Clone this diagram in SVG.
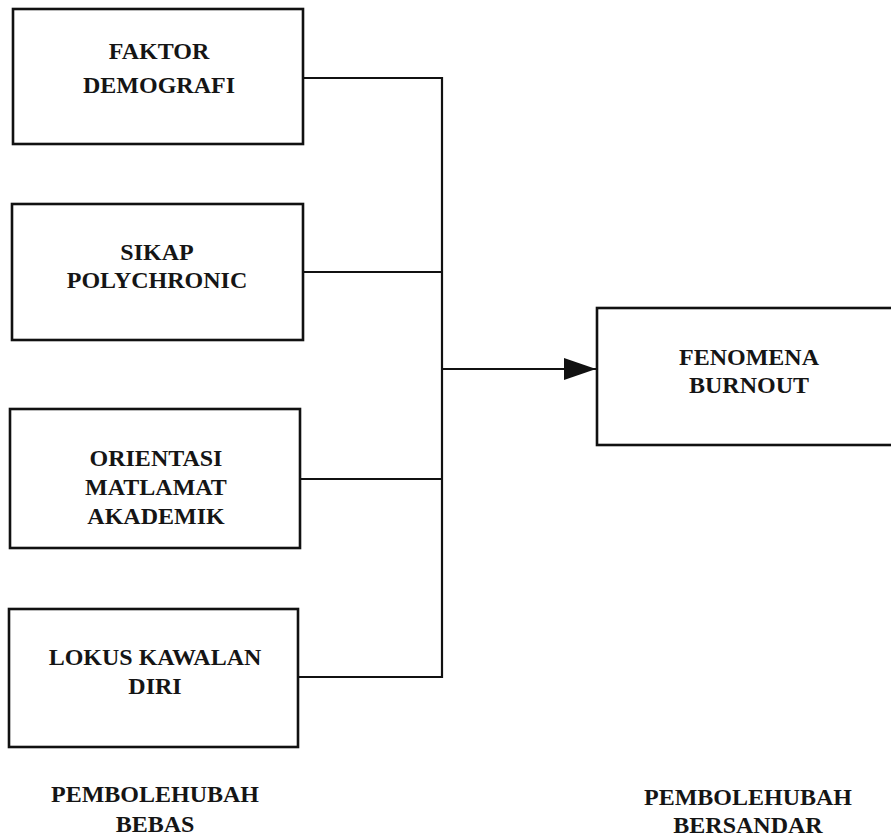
<svg xmlns="http://www.w3.org/2000/svg" width="891" height="838" viewBox="0 0 891 838">
<style>
.box{fill:#fff;stroke:#111;stroke-width:2.6}
.t{font-family:'Liberation Serif','Times New Roman',serif;font-weight:700;font-size:24px;fill:#151515;text-anchor:middle}
.c{fill:none;stroke:#111;stroke-width:2.2}
</style>
<defs>
<marker id="ah" markerUnits="userSpaceOnUse" markerWidth="34" markerHeight="22" refX="32" refY="11" orient="auto">
<path d="M0,0 L32,11 L0,22 Z" fill="#111"/>
</marker>
</defs>
<rect width="891" height="838" fill="#fff"/>
<g id="connectors">
<path class="c" d="M303,78 H442 V677 H298"/>
<path class="c" d="M303,272 H442"/>
<path class="c" d="M300,479 H442"/>
<path class="c" d="M442,369 H596" marker-end="url(#ah)"/>
</g>
<g id="faktor-demografi">
<rect class="box" x="13" y="9" width="290" height="135"/>
<text class="t" font-family="Liberation Serif, serif" x="159" y="59">FAKTOR</text>
<text class="t" font-family="Liberation Serif, serif" x="159" y="93">DEMOGRAFI</text>
</g>
<g id="sikap-polychronic">
<rect class="box" x="12" y="204" width="291" height="136"/>
<text class="t" x="157" y="260">SIKAP</text>
<text class="t" x="157" y="288">POLYCHRONIC</text>
</g>
<g id="orientasi-matlamat">
<rect class="box" x="10" y="409" width="290" height="139"/>
<text class="t" x="156" y="466">ORIENTASI</text>
<text class="t" x="156" y="495">MATLAMAT</text>
<text class="t" x="156" y="524">AKADEMIK</text>
</g>
<g id="lokus-kawalan">
<rect class="box" x="9" y="609" width="289" height="138"/>
<text class="t" x="155" y="665">LOKUS KAWALAN</text>
<text class="t" x="155" y="694">DIRI</text>
</g>
<g id="fenomena-burnout">
<rect class="box" x="597" y="308" width="300" height="137"/>
<text class="t" x="749" y="365">FENOMENA</text>
<text class="t" x="749" y="393">BURNOUT</text>
</g>
<g id="labels">
<text class="t" x="155" y="802">PEMBOLEHUBAH</text>
<text class="t" x="155" y="832">BEBAS</text>
<text class="t" x="748" y="805">PEMBOLEHUBAH</text>
<text class="t" x="748" y="833">BERSANDAR</text>
</g>
</svg>
